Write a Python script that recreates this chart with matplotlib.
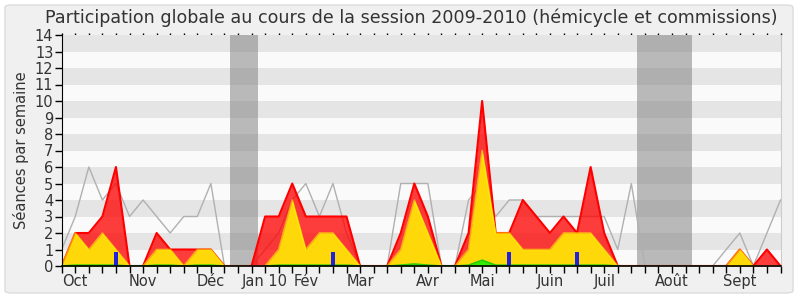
import numpy as np
import matplotlib
matplotlib.use("Agg")
import matplotlib.pyplot as plt
from matplotlib.patches import FancyBboxPatch

# ---- data (one value per week of the session, 54 weeks) ----
weeks = list(range(54))
total = [0, 2, 2, 3, 6, 0, 0, 2, 1, 1, 1, 1, 0, 0, 0, 3, 3, 5, 3, 3,
         3, 3, 0, 0, 0, 2, 5, 3, 0, 0, 2, 10, 2, 2, 4, 3, 2, 3, 2, 6,
         2, 0, 0, 0, 0, 0, 0, 0, 0, 0, 1, 0, 1, 0]
hemicycle = [0, 2, 1, 2, 1, 0, 0, 1, 1, 0, 1, 1, 0, 0, 0, 0, 1, 4, 1, 2,
             2, 1, 0, 0, 0, 1, 4, 2, 0, 0, 1, 7, 2, 2, 1, 1, 1, 2, 2, 2,
             1, 0, 0, 0, 0, 0, 0, 0, 0, 0, 1, 0, 0, 0]
interventions = [0, 0.05, 0.05, 0.05, 0.05, 0, 0, 0.05, 0.05, 0, 0.05, 0.05, 0, 0, 0, 0, 0.05, 0.05, 0.05, 0.05,
                 0.05, 0.05, 0, 0, 0, 0.05, 0.12, 0.05, 0, 0, 0.05, 0.35, 0.05, 0.05, 0.05, 0.05, 0.05, 0.05, 0.05, 0.05,
                 0.05, 0, 0, 0, 0, 0, 0, 0, 0, 0, 0, 0, 0, 0]
mediane = [1, 3, 6, 4, 5, 3, 4, 3, 2, 3, 3, 5, 0, 0, 0, 1, 2, 4, 5, 3,
           5, 2, 0, 0, 0, 5, 5, 5, 0, 0, 4, 5, 3, 4, 4, 3, 3, 3, 3, 3,
           3, 1, 5, 0, 0, 0, 0, 0, 0, 1, 2, 0, 2, 4]
questions_weeks = [4, 20, 33, 38]
questions_values = [0.85, 0.85, 0.85, 0.85]
vacances = [(12.42, 14.45), (42.43, 46.46)]
month_weeks = [1, 6, 11, 15, 18, 22, 27, 31, 36, 40, 45, 50]
month_labels = ["Oct", "Nov", "Déc", "Jan 10", "Fév", "Mar", "Avr", "Mai", "Juin", "Juil", "Août", "Sept"]
title = "Participation globale au cours de la session 2009-2010 (hémicycle et commissions)"
ylabel = "Séances par semaine"

plt.rcParams['font.family'] = ['DejaVu Sans']
txt = '#333333'

fig = plt.figure(figsize=(8, 3), dpi=100)
fig.patch.set_facecolor('white')
bg = FancyBboxPatch((5/800, 7/300), 788/800, 288/300,
                    boxstyle="round,pad=0,rounding_size=0.008",
                    transform=fig.transFigure, facecolor='#f0f0f0',
                    edgecolor='#dcdcdc', linewidth=1, zorder=-10)
fig.patches.append(bg)

ax = fig.add_axes([61.7/800, 34/300, (780.5-61.7)/800, 231/300])
ax.set_zorder(1)
ax.set_facecolor('#fafafa')
ax.set_xlim(0, 53)
ax.set_ylim(0, 14)

# stripes
for k in range(14):
    if k % 2 == 1:
        ax.axhspan(k, k+1, color='#e5e5e5', lw=0, zorder=0.1)

# vacation bands
for a, b in vacances:
    ax.axvspan(a, b, color='#7a7a7a', alpha=0.5, lw=0, zorder=0.2)

x = np.array(weeks, dtype=float)
tot = np.array(total, dtype=float)
hem = np.array(hemicycle, dtype=float)
inter = np.array(interventions, dtype=float)

ax.plot(x, mediane, color='#b0b0b0', lw=1, zorder=1)

ax.fill_between(x, 0, tot, color='#ff0000', alpha=0.76, lw=0, zorder=2)
ax.plot(x, tot, color='#ff0000', lw=1.5, zorder=2.1)

ax.fill_between(x, 0, hem, color='#ffd80a', lw=0, zorder=3)
ax.plot(x, hem, color='#ffff00', lw=1.2, alpha=0.55, zorder=3.1)

ax.fill_between(x, 0, inter, color='#33ee00', lw=0, zorder=4)
keep = np.array([inter[max(i-1, 0):i+2].max() > 0 for i in range(len(inter))])
ax.plot(x, np.where(keep, inter, np.nan), color='#22cc00', lw=1.2, zorder=4.1)

ax.bar(questions_weeks, questions_values, width=0.33, color='#2222dd', lw=0, zorder=5)

# axes styling
ax.spines['top'].set_visible(False)
ax.spines['right'].set_color('#cccccc')
ax.spines['left'].set_color('black')
ax.spines['bottom'].set_color('black')
ax.spines['bottom'].set_linewidth(1.2)
ax.spines['bottom'].set_zorder(10)
ax.spines['left'].set_zorder(10)

ax.set_yticks(range(15))
ax.set_yticklabels([str(v) for v in range(15)], fontsize=10.5, color=txt)
ax.tick_params(axis='y', length=5, width=1, pad=1, direction='out')

labels = [''] * len(weeks)
for w, l in zip(month_weeks, month_labels):
    labels[w] = l
ax.set_xticks(weeks)
ax.set_xticklabels(labels, fontsize=10.5, color=txt)
ax.tick_params(axis='x', length=5, width=1, pad=1, direction='out')

sec = ax.secondary_xaxis('top')
sec.set_xticks(weeks)
sec.set_xticklabels([''] * len(weeks))
sec.tick_params(length=1.5, width=1, direction='out', color='black')
sec.spines['top'].set_visible(False)

ax.set_ylabel(ylabel, fontsize=10.5, color=txt, labelpad=4)
fig.text(0.514, 0.94, title, ha='center', va='center', fontsize=12.6, color=txt)

fig.savefig('out.png', dpi=100, facecolor=fig.get_facecolor())
